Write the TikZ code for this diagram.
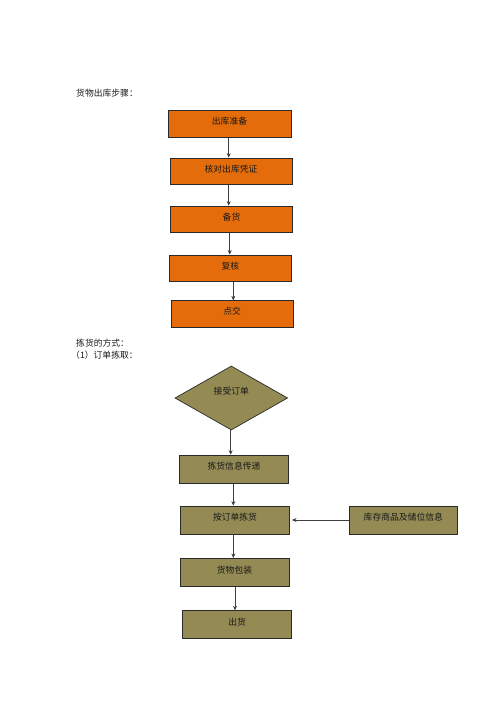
\documentclass[tikz,border=0pt]{standalone}
\usepackage{fontspec}
\newfontfamily\cjk{Noto Sans CJK SC}
\usetikzlibrary{shapes.geometric,arrows.meta}
\definecolor{orangefill}{HTML}{E46C0A}
\definecolor{olivefill}{HTML}{948A54}
\definecolor{edge}{HTML}{2A2A2A}
\tikzset{
  txt/.style={font=\cjk\fontsize{8.8}{10}\selectfont, text=black!90},
  box/.style={txt, draw=edge, line width=0.7pt, inner sep=0pt,
    text height=7.5pt, text depth=6pt},
  obox/.style={box, fill=orangefill, minimum width=122pt, minimum height=26.7pt},
  gbox/.style={box, fill=olivefill, minimum width=109pt, minimum height=28.2pt},
  diam/.style={diamond, draw=edge, line width=0.7pt, fill=olivefill, inner sep=0pt,
    aspect=1.76, minimum width=112.7pt, minimum height=64pt},
  heading/.style={txt, anchor=west, inner sep=0pt},
  arr/.style={draw=edge!90, line width=0.6pt, -{Stealth[length=4.5pt,width=4pt]}}
}
\begin{document}
\begin{tikzpicture}[x=1pt,y=-1pt]
\useasboundingbox (0,0) rectangle (500,707);
% headings
\node[heading] (h1) at (76,93.3) {货物出库步骤：};
\node[heading] (h2) at (76,342.7) {拣货的方式：};
\node[heading] (h3) at (71,355) {（1）订单拣取：};
% orange flow
\node[obox, minimum width=123pt] (o1) at (229.5,124) {出库准备};
\node[obox] (o2) at (231,171.3) {核对出库凭证};
\node[obox, minimum width=122.4pt] (o3) at (231.5,219.3) {备货};
\node[obox] (o4) at (230.3,268.3) {复核};
\node[obox, minimum width=122.3pt, minimum height=27pt] (o5) at (232.2,314.2) {点交};
\draw[arr] ([xshift=-0.8pt]o1.south) -- ([xshift=-0.8pt]o1.south |- o2.north);
\draw[arr] ([xshift=-2.3pt]o2.south) -- ([xshift=-2.3pt]o2.south |- o3.north);
\draw[arr] ([xshift=-1.8pt]o3.south) -- ([xshift=-1.8pt]o3.south |- o4.north);
\draw[arr] ([xshift=3pt]o4.south) -- ([xshift=3pt]o4.south |- o5.north);
% olive flow
\node[diam] (d) at (231.3,398) {};
\node[txt] (dt) at (231.3,391) {接受订单};
\node[gbox, minimum width=109.4pt, minimum height=28.3pt] (g1) at (234,469.2) {拣货信息传递};
\node[gbox, minimum width=108.6pt, minimum height=28pt] (g2) at (235,520) {按订单拣货};
\node[gbox, minimum width=108.7pt, minimum height=28pt] (g3) at (403.3,520) {库存商品及储位信息};
\node[gbox, minimum height=28.4pt] (g4) at (234.5,572.5) {货物包装};
\node[gbox, minimum height=27.7pt] (g5) at (237.2,624.5) {出货};
\draw[arr] ([xshift=-0.6pt]d.south) -- ([xshift=-0.6pt]d.south |- g1.north);
\draw[arr] ([xshift=-0.7pt]g1.south) -- ([xshift=-0.7pt]g1.south |- g2.north);
\draw[arr] (g3.west) -- ([xshift=2.4pt]g2.east);
\draw[arr] ([xshift=-1.7pt]g2.south) -- ([xshift=-1.7pt]g2.south |- g4.north);
\draw[arr] ([xshift=0.5pt]g4.south) -- ([xshift=0.5pt]g4.south |- g5.north);
\end{tikzpicture}
\end{document}
